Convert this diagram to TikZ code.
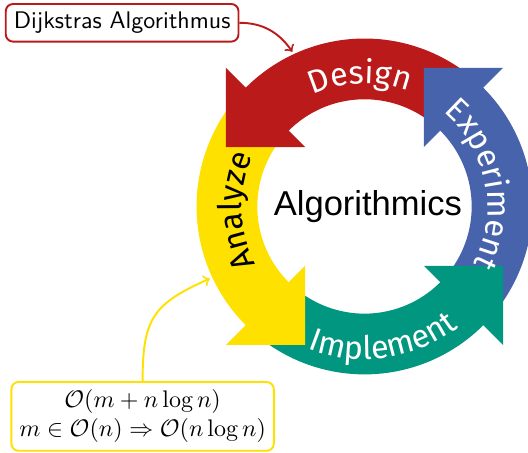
\documentclass[tikz,border=0pt]{standalone}
\usepackage{fontspec}
\usetikzlibrary{decorations.text}

\newfontfamily\arcfont{Fira Sans}
\newfontfamily\hubfont{Liberation Sans}

\definecolor{cyclered}{HTML}{BA1A1A}
\definecolor{cycleblue}{HTML}{4763AC}
\definecolor{cyclegreen}{HTML}{00967F}
\definecolor{cycleyellow}{HTML}{FFE100}

\tikzset{
  note/.style={draw=#1, thick, rounded corners=3pt, fill=white, align=center},
  arclabel/.style 2 args={decorate, decoration={text along path, text align=center,
    text color=#2, text={|\arcfont\fontsize{13.5}{15}\selectfont|#1}}},
}

\begin{document}
\begin{tikzpicture}
  \useasboundingbox (-5.339, -3.610) rectangle (2.395, 3.024);
  \def\rin{1.57}
  \def\rout{2.46}

  % ring segments first, heads on top of them
  \foreach \a/\c in {45/cyclered, 135/cycleyellow, 225/cyclegreen, 315/cycleblue}
    \fill[\c] ({\a+1}:\rin) arc[start angle={\a+1}, end angle={\a+92}, radius=\rin]
      -- ({\a+92}:\rout) arc[start angle={\a+92}, end angle={\a+1}, radius=\rout] -- cycle;
  \foreach \a/\c in {135/cyclered, 225/cycleyellow, 315/cyclegreen, 45/cycleblue}
    \fill[\c] (\a:1.23) -- ({\a+21.8}:2.208) -- (\a:2.87) -- cycle;

  \path[arclabel={Design}{white}] (137:1.80) arc[start angle=137, end angle=47, radius=1.80];
  \path[arclabel={Experiment}{white}] (56:1.80) arc[start angle=56, end angle=-34, radius=1.80];
  \path[arclabel={Analyze}{black}] (227:1.80) arc[start angle=227, end angle=137, radius=1.80];
  \path[arclabel={Implement}{white}] (236:2.24) arc[start angle=236, end angle=320, radius=2.24];

  \node[font=\hubfont\Large] (hub) at (0.05, 0) {Algorithmics};

  \node[note=cyclered, font=\sffamily] (dijkstra) at (-3.55, 2.69) {Dijkstras Algorithmus};
  \node[note=cycleyellow] (runtime) at (-3.25, -3.075)
    {$\mathcal{O}(m+n\log n)$\\ $m\in\mathcal{O}(n)\Rightarrow\mathcal{O}(n\log n)$};

  \coordinate (design) at (115:2.5);
  \coordinate (analyze) at (205:2.5);
  \draw[->, thick, cyclered] (dijkstra.east) to[out=0, in=125] (design);
  \draw[->, thick, cycleyellow] (runtime.north) to[out=90, in=204, looseness=1.3] (analyze);
\end{tikzpicture}
\end{document}
